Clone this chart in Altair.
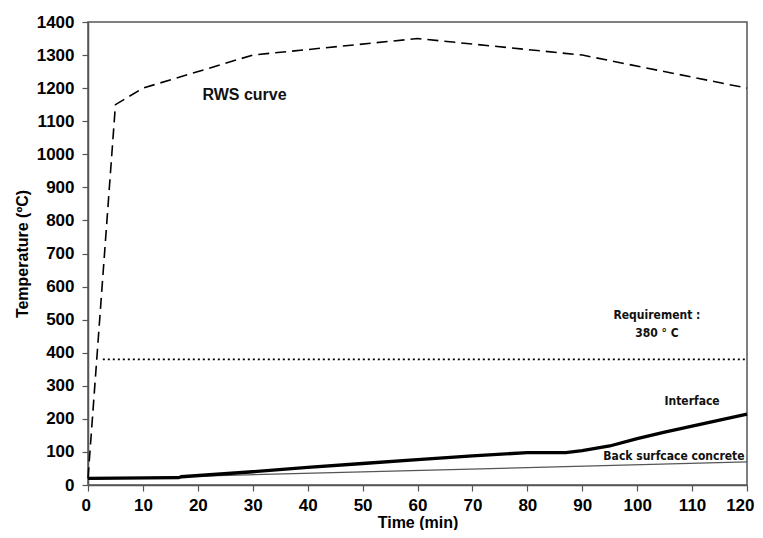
import altair as alt
import pandas as pd

# RWS fire curve
rws_t = [0, 5, 10, 30, 60, 90, 120]
rws_v = [20, 1150, 1200, 1300, 1350, 1300, 1200]

# Requirement line
req_t = [2.7, 120]
req_v = [380, 380]

# Interface temperature
int_t = [0, 16.5, 17, 30, 40, 50, 60, 70, 80, 87, 90, 95, 100, 105, 110, 115, 120]
int_v = [20, 22, 25, 40, 53, 65, 77, 88, 98, 98, 104, 118, 140, 160, 178, 196, 214]

# Back surface concrete
back_t = [0, 120]
back_v = [18, 70]

# Labels
lab_text = ["RWS curve", "Requirement :", "380 ° C", "Interface", "Back surfcace concrete"]
lab_t = [28.5, 103.6, 103.6, 110, 106.7]
lab_v = [1178, 513, 459, 254, 88]

rws = pd.DataFrame({"t": rws_t, "v": rws_v})
req = pd.DataFrame({"t": req_t, "v": req_v})
itf = pd.DataFrame({"t": int_t, "v": int_v})
back = pd.DataFrame({"t": back_t, "v": back_v})
labs = pd.DataFrame({"text": lab_text, "t": lab_t, "v": lab_v})

x = alt.X("t:Q", scale=alt.Scale(domain=[0, 120], nice=False),
          axis=alt.Axis(title="Time (min)", values=list(range(0, 121, 10)), grid=False,
                        format="d", labelPadding=6, titlePadding=1, titleFontSize=16,
                        labelFlush=True, labelFlushOffset=7))
y = alt.Y("v:Q", scale=alt.Scale(domain=[0, 1400], nice=False),
          axis=alt.Axis(title="Temperature (ºC)", values=list(range(0, 1401, 100)), grid=False,
                        format="d", labelPadding=8, titleX=-58, titleFontSize=16))

l_rws = alt.Chart(rws).mark_line(color="black", strokeWidth=1.6, strokeDash=[11, 6]).encode(x=x, y=y)
l_req = alt.Chart(req).mark_line(color="black", strokeWidth=1.8, strokeDash=[2, 3]).encode(x=x, y=y)
l_back = alt.Chart(back).mark_line(color="#555555", strokeWidth=1.2).encode(x=x, y=y)
l_int = alt.Chart(itf).mark_line(color="black", strokeWidth=3.3).encode(x=x, y=y)

t_rws = alt.Chart(labs.iloc[[0]]).mark_text(font="Liberation Sans", fontSize=16, fontWeight="bold",
                                             color="#111111").encode(x=x, y=y, text="text:N")
t_small = alt.Chart(labs.iloc[1:]).mark_text(font="'DejaVu Sans Condensed', 'Liberation Sans', sans-serif",
                                              fontSize=12, fontWeight="bold",
                                              color="#111111").encode(x=x, y=y, text="text:N")

chart = alt.layer(l_rws, l_req, l_back, l_int, t_rws, t_small).properties(
    width=659, height=463,
    autosize=alt.AutoSizeParams(type="none"),
    padding={"left": 80, "top": 14, "right": 8, "bottom": 45},
    background="white",
).configure_view(stroke="#555555", strokeWidth=1.5).configure_axis(
    domainColor="#555555", domainWidth=1.5, tickColor="#555555", tickSize=6, tickWidth=1.2,
    labelFont="Liberation Sans", labelFontSize=17, labelFontWeight="bold", labelColor="black",
    titleFont="Liberation Sans", titleFontSize=17, titleFontWeight="bold", titleColor="black",
)

chart.save("out.html", embed_options={"renderer": "svg", "actions": False})
